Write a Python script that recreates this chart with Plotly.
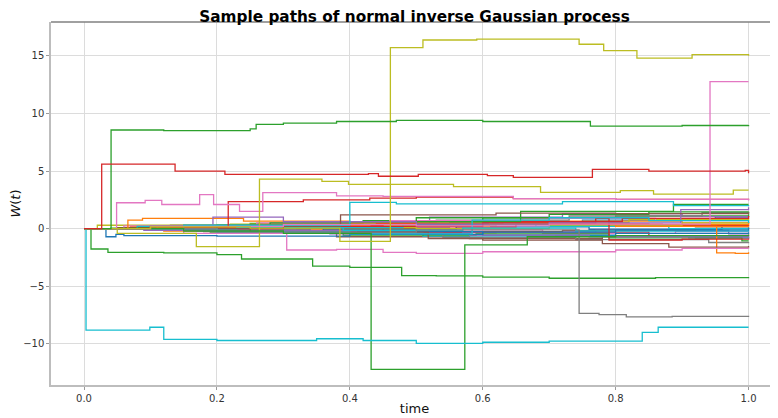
import plotly.graph_objects as go

# tab10 colours, as in the matplotlib default cycle
BLUE, ORANGE, GREEN, RED, PURPLE = "#1f77b4", "#ff7f0e", "#2ca02c", "#d62728", "#9467bd"
BROWN, PINK, GRAY, OLIVE, CYAN = "#8c564b", "#e377c2", "#7f7f7f", "#bcbd22", "#17becf"

# --- paths (jump times, value after the jump) ---
t_red_hi = [0, 0.0266, 0.137, 0.212, 0.428, 0.443, 0.503, 0.607, 0.646, 0.765, 0.85, 0.995, 1.0]
w_red_hi = [0, 5.6, 5.0, 4.72, 4.78, 4.55, 4.72, 4.6, 4.45, 5.15, 5.0, 5.05, 4.8]

t_green_hi = [0, 0.0407, 0.12, 0.25, 0.259, 0.3, 0.38, 0.47, 0.6, 0.762, 0.9, 1.0]
w_green_hi = [0, 8.56, 8.5, 8.65, 9.05, 9.15, 9.3, 9.4, 9.3, 8.9, 8.95, 9.0]

t_olive_top = [0, 0.1, 0.25, 0.385, 0.461, 0.51, 0.591, 0.745, 0.782, 0.832, 0.915, 1.0]
w_olive_top = [0, 0.15, 0.05, -1.1, 15.7, 16.37, 16.45, 16.0, 15.45, 14.8, 15.1, 15.0]

t_pink_jump = [0, 0.1, 0.3, 0.5, 0.7, 0.942, 1.0]
w_pink_jump = [0, 0.2, 0.35, 0.25, 0.4, 12.75, 12.75]

t_cyan_low = [0, 0.003, 0.099, 0.12, 0.2, 0.35, 0.42, 0.5, 0.6, 0.7, 0.84, 0.864, 1.0]
w_cyan_low = [0, -8.8, -8.55, -9.6, -9.7, -9.55, -9.7, -9.95, -9.85, -9.75, -9.0, -8.55, -8.55]

t_green_dip = [0, 0.15, 0.3, 0.432, 0.573, 0.667, 0.8, 1.0]
w_green_dip = [0, -0.2, -0.4, -12.2, -1.4, -0.7, -0.6, -0.5]

t_gray_low = [0, 0.2, 0.5, 0.745, 0.775, 0.816, 0.885, 1.0]
w_gray_low = [0, -0.3, -0.1, -7.34, -7.45, -7.65, -7.6, -7.55]

t_green_neg = [0, 0.0105, 0.036, 0.12, 0.2, 0.237, 0.344, 0.4, 0.478, 0.53, 0.6, 0.7, 0.86, 1.0]
w_green_neg = [0, -1.76, -2.05, -2.1, -2.25, -2.63, -3.24, -3.35, -4.07, -4.1, -4.2, -4.3, -4.25, -4.2]

t_olive_mid = [0, 0.05, 0.169, 0.264, 0.358, 0.398, 0.556, 0.687, 0.807, 0.857, 0.977, 1.0]
w_olive_mid = [0, -0.4, -1.56, 4.3, 4.1, 3.85, 3.65, 3.15, 3.3, 3.0, 3.35, 3.35]

t_pink_mid = [0, 0.049, 0.092, 0.117, 0.174, 0.195, 0.234, 0.269, 0.38, 0.45, 0.646, 0.8, 1.0]
w_pink_mid = [0, 2.25, 2.45, 2.1, 2.95, 2.1, 1.5, 3.12, 2.85, 2.8, 2.6, 2.55, 2.45]

t_red_mid = [0, 0.1, 0.217, 0.33, 0.43, 0.5, 0.646, 0.8, 1.0]
w_red_mid = [0, 0.15, 2.35, 2.5, 2.65, 2.75, 2.6, 2.55, 2.5]

t_cyan_mid = [0, 0.15, 0.4, 0.47, 0.72, 0.887, 1.0]
w_cyan_mid = [0, 0.3, 2.29, 2.15, 2.35, 2.0, 1.95]

t_pink_neg = [0, 0.15, 0.305, 0.38, 0.45, 0.5, 0.6, 0.8, 0.9, 1.0]
w_pink_neg = [0, -0.4, -1.85, -1.8, -2.05, -2.15, -2.0, -1.85, -1.7, -1.75]

t_orange_end = [0, 0.066, 0.088, 0.24, 0.4, 0.6, 0.8, 0.952, 0.98, 1.0]
w_orange_end = [0, 0.75, 0.9, 0.65, 0.5, 0.4, 0.2, -2.1, -2.15, -2.05]

t_purple_end = [0, 0.194, 0.3, 0.5, 0.7, 0.898, 1.0]
w_purple_end = [0, 1.0, 0.6, 0.4, 0.5, 1.65, 1.85]

t_green_end = [0, 0.2, 0.4, 0.657, 0.887, 1.0]
w_green_end = [0, 0.3, 0.6, 1.5, 2.1, 2.1]

t_brown_up = [0, 0.1, 0.386, 0.62, 0.8, 1.0]
w_brown_up = [0, 0.2, 1.2, 1.35, 1.3, 1.4]

t_brown_dn = [0, 0.25, 0.518, 0.6, 0.78, 0.88, 1.0]
w_brown_dn = [0, -0.3, -0.85, -1.0, -1.3, -1.6, -1.5]

t_red_drop = [0, 0.3, 0.6, 0.77, 0.79, 0.9, 1.0]
w_red_drop = [0, 0.2, 0.5, 0.9, -0.98, -0.9, -0.95]

t_cyan_up = [0, 0.2, 0.4, 0.584, 0.7, 0.85, 1.0]
w_cyan_up = [0, -0.3, -0.45, 0.75, 0.95, 0.7, 0.5]

t_blue_dip = [0, 0.033, 0.048, 0.06, 0.2, 0.4, 0.6, 0.8, 1.0]
w_blue_dip = [0, -0.7, -0.5, -0.6, -0.65, -0.5, -0.3, -0.1, 0.1]

# --- the dense bundle around zero ---
t_c01 = [0, 0.15, 0.35, 0.55, 0.75, 0.95, 1.0]
w_c01 = [0, 0.3, 0.15, 0.5, 0.75, 1.0, 1.0]
t_c02 = [0, 0.12, 0.3, 0.5, 0.7, 0.9, 1.0]
w_c02 = [0, -0.2, -0.1, 0.35, 0.65, 0.5, 0.55]
t_c03 = [0, 0.1, 0.25, 0.42, 0.6, 0.8, 1.0]
w_c03 = [0, 0.15, 0.45, 0.7, 0.95, 1.1, 1.25]
t_c04 = [0, 0.08, 0.22, 0.45, 0.62, 0.85, 1.0]
w_c04 = [0, 0.2, 0.05, -0.35, -0.3, -0.6, -0.65]
t_c05 = [0, 0.14, 0.34, 0.52, 0.72, 0.9, 1.0]
w_c05 = [0, -0.1, 0.25, 1.0, 1.3, 1.05, 1.0]
t_c06 = [0, 0.18, 0.38, 0.58, 0.78, 0.92, 1.0]
w_c06 = [0, -0.25, -0.7, -0.85, -0.65, -0.8, -0.75]
t_c07 = [0, 0.09, 0.29, 0.49, 0.69, 0.89, 1.0]
w_c07 = [0, 0.1, -0.2, -0.1, -0.4, -0.25, -0.3]
t_c08 = [0, 0.13, 0.33, 0.53, 0.73, 0.93, 1.0]
w_c08 = [0, 0.3, 0.6, 0.75, 1.1, 1.4, 1.35]
t_c09 = [0, 0.02, 0.22, 0.42, 0.62, 0.82, 1.0]
w_c09 = [0, 0.3, 0.4, 0.25, 0.55, 0.8, 0.75]
t_c10 = [0, 0.11, 0.31, 0.51, 0.71, 0.91, 1.0]
w_c10 = [0, -0.15, -0.35, -0.65, -0.6, -0.8, -0.75]
t_c11 = [0, 0.16, 0.36, 0.56, 0.76, 0.96, 1.0]
w_c11 = [0, 0.05, -0.1, 0.15, -0.05, 0.2, 0.2]
t_c12 = [0, 0.07, 0.27, 0.47, 0.67, 0.87, 1.0]
w_c12 = [0, 0.2, 0.4, 0.65, 0.4, 0.2, 0.25]
t_c13 = [0, 0.19, 0.39, 0.59, 0.79, 0.99, 1.0]
w_c13 = [0, -0.3, -0.55, -0.45, -0.8, -1.05, -1.05]
t_c14 = [0, 0.05, 0.25, 0.45, 0.65, 0.85, 1.0]
w_c14 = [0, 0.1, 0.3, 0.15, 0.4, 0.3, 0.35]
t_c15 = [0, 0.17, 0.37, 0.57, 0.77, 0.97, 1.0]
w_c15 = [0, -0.2, -0.45, -0.3, -0.15, -0.45, -0.4]
t_c16 = [0, 0.12, 0.32, 0.52, 0.72, 0.92, 1.0]
w_c16 = [0, 0.15, 0.0, -0.25, -0.15, 0.05, 0.0]
t_c17 = [0, 0.06, 0.26, 0.46, 0.66, 0.86, 1.0]
w_c17 = [0, 0.25, 0.5, 0.7, 0.9, 0.7, 0.75]
t_c18 = [0, 0.14, 0.34, 0.54, 0.74, 0.94, 1.0]
w_c18 = [0, -0.1, -0.4, -0.75, -0.95, -1.2, -1.15]
t_c19 = [0, 0.1, 0.3, 0.5, 0.7, 0.9, 1.0]
w_c19 = [0, 0.05, 0.1, 0.0, 0.3, 0.5, 0.45]
t_c20 = [0, 0.08, 0.28, 0.48, 0.68, 0.88, 1.0]
w_c20 = [0, 0.2, 0.1, 0.35, 0.2, 0.0, 0.05]
t_c21 = [0, 0.2, 0.4, 0.6, 0.8, 1.0]
w_c21 = [0, -0.4, -0.25, -0.55, -0.4, -0.3]
t_c22 = [0, 0.04, 0.28, 0.5, 0.7, 0.85, 1.0]
w_c22 = [0, 0.05, 0.5, 0.95, 1.25, 1.45, 1.5]
t_c23 = [0, 0.13, 0.27, 0.44, 0.63, 0.81, 1.0]
w_c23 = [0, 0.1, 0.25, 0.45, 0.6, 0.9, 1.1]
t_c24 = [0, 0.09, 0.24, 0.41, 0.58, 0.76, 1.0]
w_c24 = [0, -0.15, -0.2, -0.4, -0.55, -0.7, -0.85]
t_c25 = [0, 0.11, 0.26, 0.43, 0.61, 0.79, 1.0]
w_c25 = [0, 0.15, 0.3, 0.2, 0.5, 0.35, 0.6]
t_c26 = [0, 0.07, 0.23, 0.39, 0.57, 0.74, 1.0]
w_c26 = [0, -0.05, 0.1, -0.15, 0.05, -0.2, -0.1]

paths = [
    (t_c01, w_c01, BLUE), (t_c02, w_c02, ORANGE), (t_c03, w_c03, GREEN),
    (t_c04, w_c04, RED), (t_c05, w_c05, PURPLE), (t_c06, w_c06, BROWN),
    (t_c07, w_c07, PINK), (t_c08, w_c08, GRAY), (t_c09, w_c09, OLIVE),
    (t_c10, w_c10, CYAN), (t_c11, w_c11, BLUE), (t_c12, w_c12, ORANGE),
    (t_c13, w_c13, GREEN), (t_c14, w_c14, RED), (t_c15, w_c15, PURPLE),
    (t_c16, w_c16, BROWN), (t_c17, w_c17, PINK), (t_c18, w_c18, GRAY),
    (t_c19, w_c19, OLIVE), (t_c20, w_c20, CYAN), (t_c21, w_c21, BLUE),
    (t_c22, w_c22, GREEN), (t_c23, w_c23, RED), (t_c24, w_c24, PURPLE),
    (t_c25, w_c25, ORANGE), (t_c26, w_c26, CYAN),
    (t_blue_dip, w_blue_dip, BLUE), (t_orange_end, w_orange_end, ORANGE),
    (t_green_end, w_green_end, GREEN), (t_red_drop, w_red_drop, RED),
    (t_purple_end, w_purple_end, PURPLE), (t_brown_up, w_brown_up, BROWN),
    (t_brown_dn, w_brown_dn, BROWN), (t_cyan_up, w_cyan_up, CYAN),
    (t_pink_neg, w_pink_neg, PINK), (t_cyan_mid, w_cyan_mid, CYAN),
    (t_red_mid, w_red_mid, RED), (t_pink_mid, w_pink_mid, PINK),
    (t_olive_mid, w_olive_mid, OLIVE), (t_green_neg, w_green_neg, GREEN),
    (t_gray_low, w_gray_low, GRAY), (t_green_dip, w_green_dip, GREEN),
    (t_cyan_low, w_cyan_low, CYAN), (t_pink_jump, w_pink_jump, PINK),
    (t_olive_top, w_olive_top, OLIVE), (t_green_hi, w_green_hi, GREEN),
    (t_red_hi, w_red_hi, RED),
]

fig = go.Figure()
for t, w, color in paths:
    fig.add_trace(
        go.Scatter(
            x=t, y=w, mode="lines", line_shape="hv",
            line=dict(color=color, width=1.3), showlegend=False,
        )
    )

axis_style = dict(
    showgrid=True, gridcolor="#dcdcdc", gridwidth=1,
    showline=True, linecolor="#bdbdbd", linewidth=1.5,
    ticks="outside", ticklen=3, tickcolor="#9a9a9a",
    tickfont=dict(size=10, color="#333333"), zeroline=False,
    automargin=False,
)

# the page body adds an 8 px offset, so margins are set 8 px smaller at top/left
fig.update_layout(
    width=778, height=418,
    margin=dict(l=43, r=8, t=14, b=41),
    paper_bgcolor="white", plot_bgcolor="white",
    font=dict(family="DejaVu Sans", color="#111111"),
    title=dict(
        text="<b>Sample paths of normal inverse Gaussian process</b>",
        x=0.5, xref="paper", y=1 - 8.5 / 418, yref="container",
        xanchor="center", yanchor="middle", font=dict(size=15.3, color="black"),
        automargin=False,
    ),
    xaxis=dict(
        range=[-0.0497, 1.0443], tickvals=[0, 0.2, 0.4, 0.6, 0.8, 1.0],
        tickformat=".1f",
        title=dict(text="time", font=dict(size=13), standoff=1),
        **axis_style,
    ),
    yaxis=dict(
        range=[-13.56, 17.93], tickvals=[-10, -5, 0, 5, 10, 15],
        title=dict(text="<i>W</i>(<i>t</i>)", font=dict(size=13), standoff=3),
        **axis_style,
    ),
    shapes=[dict(type="line", xref="paper", yref="paper", x0=0, x1=1, y0=1, y1=1,
                 line=dict(color="#808080", width=1.3))],
)

fig.write_html("out.html")
